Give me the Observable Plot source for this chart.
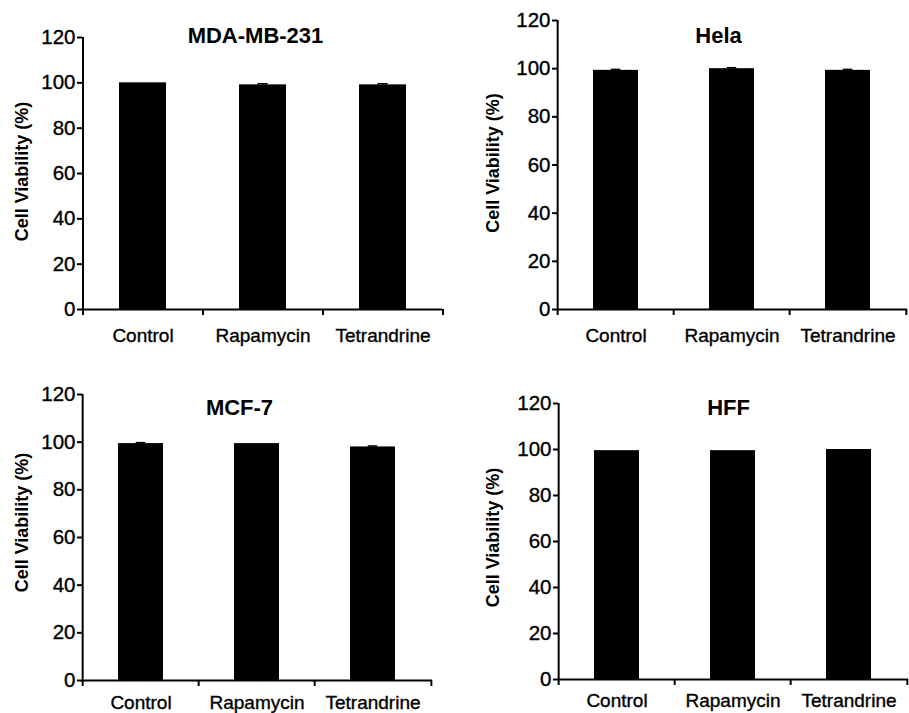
<!DOCTYPE html>
<html>
<head>
<meta charset="utf-8">
<script src="https://cdn.jsdelivr.net/npm/d3@7"></script>
<script src="https://cdn.jsdelivr.net/npm/@observablehq/plot@0.6"></script>
<style>
  html, body { margin: 0; padding: 0; background: #fff; }
  #wrap { position: relative; width: 909px; height: 713px; overflow: hidden; background: #fff; }
  svg [aria-label="y-axis tick"] path, svg .tick line { stroke-width: 2px; }
  svg [aria-label="y-axis tick label"] { font-size: 20.5px; }
  svg [aria-label="y-axis tick label"] text, svg [aria-label="x-axis tick label"] text { stroke: #000; stroke-width: 0.35px; }
</style>
</head>
<body>
<div id="wrap"></div>
<script>
// ---- data ----
const categories = ["Control", "Rapamycin", "Tetrandrine"];
const cellLines = ["MDA-MB-231", "Hela", "MCF-7", "HFF"];
const mdaValues = [100, 99.1, 99.1];
const mdaErrors = [0, 0.5, 0.5];
const helaValues = [99.3, 100, 99.3];
const helaErrors = [0.4, 0.4, 0.4];
const mcfValues = [99.4, 99.4, 98.0];
const mcfErrors = [0.4, 0, 0.4];
const hffValues = [99.5, 99.5, 100];
const hffErrors = [0, 0, 0];
const yTicks = [0, 20, 40, 60, 80, 100, 120];
const yLabel = "Cell Viability (%)";

// ---- layout (not data) ----
const layouts = [
  {left: 0,   top: 0,   width: 450, height: 360, ml: 82,  mr: 8,  mt: 37, mb: 51, tp: 19, tdx: -7,  tdy: -2, ldx: -60, ldy: -2},
  {left: 450, top: 0,   width: 459, height: 360, ml: 107, mr: 2,  mt: 20, mb: 51, tp: 19, tdx: -14, tdy: 15, ldx: -64, ldy: -2},
  {left: 0,   top: 360, width: 450, height: 353, ml: 82,  mr: 18, mt: 34, mb: 33, tp: 15, tdx: -18, tdy: 13, ldx: -60, ldy: -15},
  {left: 450, top: 360, width: 459, height: 353, ml: 108, mr: 1,  mt: 43, mb: 34, tp: 14, tdx: -5,  tdy: 4,  ldx: -65, ldy: -4}
];
const seriesValues = [mdaValues, helaValues, mcfValues, hffValues];
const seriesErrors = [mdaErrors, helaErrors, mcfErrors, hffErrors];
const pad = 0.61;
const font = "'Liberation Sans', Arial, Helvetica, sans-serif";

function panel(name, values, errors, L) {
  const data = categories.map((c, i) => ({cat: c, v: values[i], e: errors[i]}));
  const withErr = data.filter(d => d.e > 0);
  const step = (L.width - L.ml - L.mr) / categories.length;
  const bw = step * (1 - pad);
  return Plot.plot({
    width: L.width,
    height: L.height,
    marginLeft: L.ml,
    marginRight: L.mr,
    marginTop: L.mt,
    marginBottom: L.mb,
    style: {fontFamily: font, fontSize: "19px", color: "#000", background: "transparent", overflow: "visible"},
    x: {domain: categories, paddingInner: pad, paddingOuter: pad / 2, align: 0.5, tickSize: 0, tickPadding: L.tp, label: null},
    y: {domain: [0, 120], ticks: yTicks, tickSize: 5, tickPadding: 2, label: null},
    marks: [
      Plot.barY(data, {x: "cat", y: "v", fill: "#000"}),
      Plot.ruleX(withErr, {x: "cat", y1: d => d.v, y2: d => d.v + d.e, stroke: "#000", strokeWidth: 1.5}),
      Plot.tickY(withErr, {x: "cat", y: d => d.v + d.e, stroke: "#000", strokeWidth: 1.5, insetLeft: bw / 2 - 5, insetRight: bw / 2 - 5}),
      Plot.ruleY([0], {stroke: "#000", strokeWidth: 2}),
      Plot.ruleX([categories[0]], {x: d => d, y1: 0, y2: 120, dx: -step / 2, stroke: "#000", strokeWidth: 2}),
      Plot.ruleX(categories, {x: d => d, y1: 0, y2: 0, insetBottom: -6, dx: -step / 2, stroke: "#000", strokeWidth: 2}),
      Plot.ruleX([categories[categories.length - 1]], {x: d => d, y1: 0, y2: 0, insetBottom: -6, dx: step / 2, stroke: "#000", strokeWidth: 2}),
      Plot.text([name], {text: d => d, frameAnchor: "top", lineAnchor: "middle", dx: L.tdx, dy: L.tdy, fontSize: 22, fontWeight: "bold", fill: "#000"}),
      Plot.text([yLabel], {text: d => d, frameAnchor: "left", rotate: -90, textAnchor: "middle", lineAnchor: "middle", dx: L.ldx, dy: L.ldy, fontSize: 18, fontWeight: "bold", fill: "#000"})
    ]
  });
}

const wrap = document.getElementById("wrap");
cellLines.forEach((name, k) => {
  const L = layouts[k];
  const chart = panel(name, seriesValues[k], seriesErrors[k], L);
  chart.style.left = L.left + "px";
  chart.style.top = L.top + "px";
  chart.style.position = "absolute";
  wrap.appendChild(chart);
});
</script>
</body>
</html>
